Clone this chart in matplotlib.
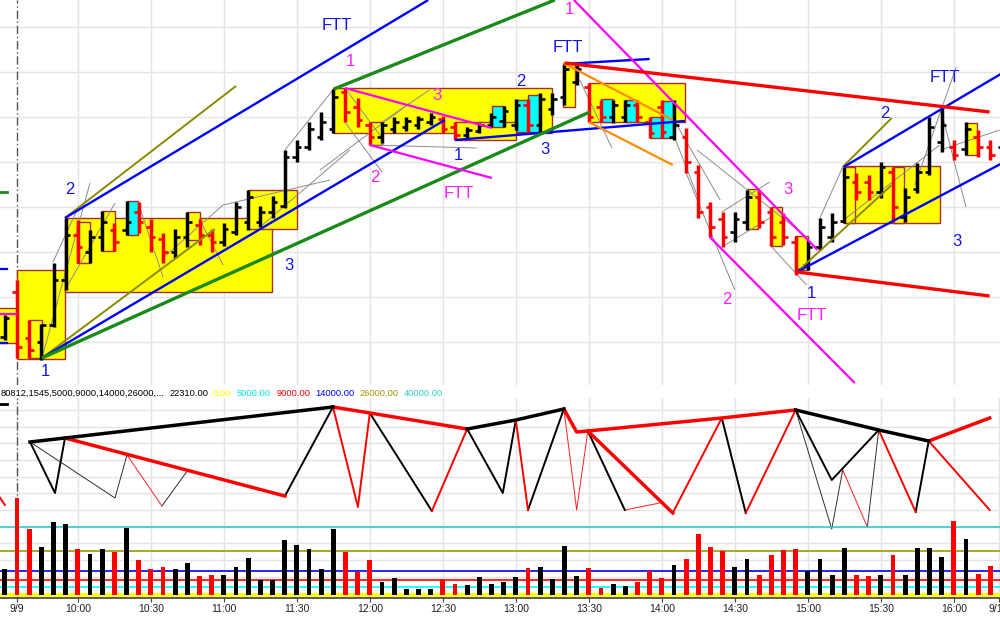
import matplotlib
matplotlib.use("Agg")
import matplotlib.pyplot as plt
from matplotlib.patches import Rectangle

plt.rcParams["font.family"] = ["Liberation Sans", "DejaVu Sans"]

# ---------------- data ----------------
# 5 minute bars, index 0 = first bar of 9/9, index -1 = last bar of the day before
bar_idx = list(range(-1, 82))
high = [72, 107, 67, 63, 124, 169, 167, 157, 176, 164, 186, 185, 168, 154, 158, 175, 168, 158, 164, 185,
        197, 181, 191, 237, 247, 265, 275, 298, 299, 289, 265, 265, 270, 270, 271, 274, 271, 265, 260, 264,
        274, 281, 288, 288, 294, 294, 322, 322, 304, 287, 287, 287, 287, 270, 287, 287, 259, 222, 185, 175,
        175, 197, 197, 180, 174, 151, 147, 169, 174, 220, 214, 212, 225, 220, 199, 224, 270, 279, 247, 265,
        257, 247, 259]
low = [47, 29, 29, 27, 60, 97, 124, 124, 136, 136, 152, 154, 135, 124, 129, 140, 142, 135, 141, 152,
       157, 160, 169, 179, 225, 237, 247, 254, 265, 260, 242, 244, 254, 256, 258, 262, 254, 247, 249, 254,
       260, 260, 257, 255, 255, 272, 282, 302, 265, 265, 264, 265, 265, 249, 249, 247, 214, 169, 150, 140,
       145, 157, 159, 141, 142, 112, 117, 137, 145, 164, 187, 187, 189, 165, 165, 194, 212, 235, 227, 232,
       230, 227, 237]
opn = [50, 95, 49, 45, 62, 107, 152, 135, 150, 157, 157, 175, 160, 148, 135, 150, 162, 152, 145, 155,
       165, 165, 175, 181, 230, 240, 250, 258, 295, 280, 262, 250, 258, 260, 262, 265, 268, 260, 252, 256,
       262, 266, 262, 282, 262, 278, 290, 305, 300, 280, 270, 270, 282, 265, 280, 250, 250, 215, 180, 168,
       155, 165, 190, 175, 165, 145, 122, 140, 150, 166, 205, 205, 195, 215, 170, 198, 215, 245, 240, 238,
       250, 240, 240]
close = [69, 40, 37, 62, 107, 152, 140, 150, 165, 145, 165, 165, 150, 135, 150, 165, 152, 145, 158, 180,
         190, 175, 185, 230, 240, 258, 265, 290, 275, 267, 250, 262, 265, 266, 268, 270, 258, 252, 257, 262,
         270, 276, 282, 262, 288, 288, 318, 318, 270, 270, 282, 282, 270, 254, 255, 262, 225, 175, 160, 150,
         168, 190, 165, 150, 150, 118, 140, 160, 165, 210, 195, 195, 220, 180, 190, 215, 260, 262, 232, 258,
         240, 232, 255]
volume = [15100, 56900, 38800, 28200, 42900, 41600, 27300, 24100, 26900, 25300, 39400, 20600, 15500, 16500,
          15100, 18600, 11400, 12000, 12000, 16500, 21600, 9000, 9000, 32400, 29200, 26900, 15500, 38800,
          25300, 13500, 20600, 7800, 9800, 3300, 3700, 3300, 9200, 6300, 5900, 10400, 6300,
          7800, 10600, 16100, 16500, 9400, 28800, 11400, 16100, 4300, 6700, 5300, 7800, 14300, 10000,
          17600, 21200, 35700, 28400, 26100, 16500, 21200, 12000, 23300, 26300, 26900, 14300, 21200,
          11600, 27500, 11600, 11200, 11600, 23700, 11600, 27800, 27800, 22400, 43700, 32900, 12500,
          17200, 27500]

tick_pos = [0, 5, 11, 17, 23, 29, 35, 41, 47, 53, 59, 65, 71, 77, 80.7]
tick_lab = ["9/9", "10:00", "10:30", "11:00", "11:30", "12:00", "12:30", "13:00",
            "13:30", "14:00", "14:30", "15:00", "15:30", "16:00", "9/10"]

# congestion boxes: left, right (bar index), top, bottom (price)
box_x0 = [-1.6, 0, 1, 3.94, 4.93, 6.98, 9.04, 14.0, 19.0, 25.97, 29.0, 36.0, 39.03, 41.1, 42.0,
          44.9, 47.0, 48.0, 50.0, 52.0, 53.0, 60.0, 62.0, 63.93, 67.95, 67.95, 72.0, 78.0]
box_x1 = [0, 3.94, 2.05, 20.95, 6.0, 8.05, 9.94, 15.0, 23.0, 43.96, 30.0, 41.0, 40.0, 42.0, 42.9,
          45.85, 54.9, 49.0, 51.0, 53.0, 53.9, 60.9, 62.9, 65.0, 75.84, 68.86, 72.9, 78.9]
box_hi = [79, 117, 67, 169, 165, 176, 186, 175, 197, 299, 265, 265, 281, 287, 292,
          324, 304, 288, 287, 270, 286, 198, 180, 151, 221, 220, 220, 264]
box_lo = [44, 28, 29, 95, 124, 136, 152, 147, 158, 254, 242, 247, 260, 255, 255,
          280, 265, 265, 265, 249, 249, 158, 141, 117, 164, 164, 164, 232]
box_kind = ["y", "y", "y", "y", "y", "y", "c", "y", "y", "y", "y", "y", "c", "c", "c",
            "y", "y", "c", "c", "c", "c", "y", "y", "y", "y", "y", "y", "y"]

# trend lines ((bar index, price), (bar index, price))
blue_lines = [((3.94, 169), (33.8, 387)), ((2.05, 29), (35.17, 267)), ((36.0, 247), (54.9, 266)),
              ((44.9, 323), (52.0, 328)), ((64.1, 115), (81.0, 224)), ((67.95, 220), (81.0, 314))]
green_lines = [((2.05, 29), (47.08, 275)), ((26.05, 298), (44.2, 387))]
olive_lines = [((3.94, 169), (18.0, 301)), ((2.05, 29), (16.27, 158)),
               ((64.1, 115), (71.9, 202)), ((67.87, 220), (71.9, 269))]
magenta_lines = [((26.95, 299), (39.03, 259)), ((29.0, 242), (39.03, 209)),
                 ((45.77, 387), (65.8, 137)), ((56.94, 150), (68.86, 4)), ((-1.6, 73), (0, 73))]
red_lines = [((45.03, 324), (79.95, 275)), ((64.1, 115), (79.95, 91))]
orange_lines = [((44.9, 324), (53.9, 267)), ((47.0, 265), (53.9, 222))]
gray_lines = [((2.05, 29), (6.0, 204)), ((2.96, 125), (4.93, 177)), ((3.94, 97), (8.05, 184)),
              ((9.94, 185), (12.0, 110)), ((12.0, 129), (16.93, 182)), ((14.95, 169), (16.93, 122)),
              ((16.93, 182), (25.72, 207)), ((19.97, 160), (27.36, 237)), ((22.02, 237), (25.97, 297)),
              ((26.95, 299), (30.0, 249)), ((26.95, 265), (30.0, 215)), ((24.9, 217), (32.3, 284)),
              ((29.0, 242), (37.8, 239)), ((30.0, 265), (33.9, 297)), ((46.26, 307), (48.9, 239)),
              ((53.9, 269), (57.8, 187)), ((54.07, 249), (55.96, 190)), ((55.0, 214), (59.0, 97)),
              ((57.93, 140), (61.87, 169)), ((57.93, 175), (61.87, 205)), ((55.9, 237), (64.9, 150)),
              ((61.96, 141), (64.9, 102)), ((66.0, 169), (67.87, 220)), ((67.95, 167), (75.84, 242)),
              ((73.8, 202), (77.2, 320)), ((75.9, 279), (78.0, 180)), ((75.9, 237), (80.77, 257))]

blue_labels = [("1", 2.3, 15), ("2", 4.35, 197), ("3", 22.35, 122), ("FTT", 26.3, 362),
               ("2", 41.4, 305), ("1", 36.3, 232), ("3", 43.4, 237), ("FTT", 45.3, 340),
               ("1", 65.3, 94), ("2", 71.3, 274), ("FTT", 76.3, 310), ("3", 77.3, 146)]
magenta_labels = [("1", 27.36, 325), ("3", 34.5, 291), ("2", 29.42, 210), ("FTT", 36.3, 194),
                  ("1", 45.4, 377), ("3", 63.35, 197), ("2", 58.34, 87), ("FTT", 65.3, 71)]

# swing (zigzag) panel, polylines of (bar index, value)
zz_black_thick = [[(1.07, 156), (3.94, 160), (25.97, 191)], [(37.0, 169), (41.0, 178), (44.95, 189)],
                  [(64.0, 188), (70.83, 168), (74.94, 157)]]
zz_red_thick = [[(25.97, 191), (29.0, 185), (37.0, 169)],
                [(44.95, 189), (46.0, 166), (46.92, 167), (57.93, 180), (64.0, 188)],
                [(74.94, 157), (79.95, 180)], [(3.94, 160), (22.02, 102)], [(46.92, 167), (53.9, 85)]]
zz_black_mid = [[(1.07, 156), (3.12, 105), (3.94, 160)], [(22.02, 102), (25.97, 191)],
                [(29.0, 185), (34.1, 87)], [(37.0, 169), (39.93, 105), (41.0, 178)],
                [(42.0, 88), (44.95, 189)], [(57.93, 180), (59.9, 85)],
                [(64.0, 188), (66.97, 118), (70.83, 168)], [(73.87, 86), (74.94, 157)],
                [(46.92, 167), (49.96, 88)]]
zz_red_mid = [[(25.97, 191), (28.02, 91), (29.0, 185)], [(34.1, 87), (37.0, 169)],
              [(41.0, 178), (42.0, 88)], [(53.9, 85), (57.93, 180)], [(59.9, 85), (64.0, 188)],
              [(70.83, 168), (73.87, 86)], [(74.94, 157), (79.95, 88)], [(-1.6, 104), (-1.0, 93)]]
zz_black_thin = [[(1.07, 156), (8.05, 100), (9.04, 143)], [(11.91, 92), (14.05, 128)],
                 [(64.0, 188), (66.97, 69), (67.87, 128)], [(69.9, 71), (70.83, 168)]]
zz_red_thin = [[(9.04, 143), (11.91, 92)], [(44.95, 189), (46.0, 88), (46.92, 167)],
               [(49.96, 88), (52.83, 95)], [(67.87, 128), (69.9, 71)]]

vol_levels = [0, 5000, 9000, 14000, 26000, 40000]
vol_level_cols = ["#ffff00", "#00ffff", "#ff0000", "#0000ff", "#999900", "#33cccc"]

legend_parts = [("80812,1545,5000,9000,14000,26000,...", 1, "#000000"), ("22310.00", 170, "#000000"),
                ("0.00", 213, "#ffff00"), ("5000.00", 237, "#00e5e5"), ("9000.00", 277, "#ff0000"),
                ("14000.00", 315, "#0000ff"), ("26000.00", 360, "#999900"), ("40000.00", 404, "#33cccc")]

# ---------------- figure ----------------
W, H = 1000, 618
fig = plt.figure(figsize=(W / 100, H / 100), dpi=100)
fig.patch.set_facecolor("white")


def rect(top, bottom):
    return [0, 1 - bottom / H, 1, (bottom - top) / H]


XL = (-1.4, 80.8)
ax = fig.add_axes(rect(0, 385))
axz = fig.add_axes(rect(398, 598))
axv = axz.twinx()

# price panel
ax.set_xlim(*XL)
ax.set_ylim(2, 387)
for s in ax.spines.values():
    s.set_visible(False)
ax.set_xticks(tick_pos[1:-1])
ax.set_yticks(range(45, 387, 45))
ax.tick_params(length=0, labelbottom=False, labelleft=False)
ax.grid(True, color="#e4e4e4", lw=1)
ax.set_axisbelow(True)
ax.axvline(0, color="#555555", lw=1, ls=(0, (6, 2, 1, 2)), zorder=1)

fills = {"y": "#ffff00", "c": "#00ffff"}
for x0, x1, hi, lo, k in zip(box_x0, box_x1, box_hi, box_lo, box_kind):
    ax.add_patch(Rectangle((x0, lo), x1 - x0, hi - lo, facecolor=fills[k],
                           edgecolor="#a3302a", lw=1, zorder=2))


def draw(axis, segs, color, lw, z):
    for (xa, ya), (xb, yb) in segs:
        axis.plot([xa, xb], [ya, yb], color=color, lw=lw, zorder=z, solid_capstyle="butt")


draw(ax, gray_lines, "#8c8c8c", 0.7, 3)

cols = ["#000000" if c >= o else "#ff0000" for o, c in zip(opn, close)]
ax.vlines(bar_idx, low, high, colors=cols, lw=2.5, zorder=4)
ax.hlines(opn, [i - 0.38 for i in bar_idx], bar_idx, colors=cols, lw=1.9, zorder=4)
ax.hlines(close, bar_idx, [i + 0.38 for i in bar_idx], colors=cols, lw=1.9, zorder=4)

draw(ax, olive_lines, "#8a8a00", 1.4, 5)
draw(ax, blue_lines, "#0000ff", 1.7, 5)
draw(ax, green_lines, "#1a8a1a", 2.4, 5)
draw(ax, magenta_lines, "#ff00ff", 1.6, 5)
draw(ax, orange_lines, "#ff8c00", 1.6, 5)
draw(ax, red_lines, "#ff0000", 2.4, 5)

# little marks at left edge
ax.plot([-1.45, -0.85], [195, 195], color="#1a8a1a", lw=2, zorder=5)
ax.plot([-1.45, -0.85], [118, 118], color="#0000ff", lw=1.6, zorder=5)
ax.plot([-1.45, -0.85], [44, 44], color="#0000ff", lw=1.6, zorder=5)

for s, x, y in blue_labels:
    ax.text(x, y, s, color="#1414e6", fontsize=12, ha="center", va="center", zorder=6)
for s, x, y in magenta_labels:
    ax.text(x, y, s, color="#ff1aff", fontsize=12, ha="center", va="center", zorder=6)

# swing panel (background axis) with grid
axz.set_xlim(*XL)
axz.set_ylim(0, 200)
for name, s in axz.spines.items():
    s.set_visible(name == "bottom")
axz.spines["bottom"].set_color("#404040")
axz.spines["bottom"].set_linewidth(1.2)
axz.set_yticks([188, 171, 155, 138, 121, 105, 88, 71, 55, 38, 21, 5])
axz.set_xticks(tick_pos)
axz.set_xticklabels(tick_lab, fontsize=7.5, color="#202020")
axz.tick_params(axis="x", length=3, color="#404040", pad=1.5)
axz.tick_params(axis="y", length=0, labelleft=False)
axz.grid(True, color="#e4e4e4", lw=1)
axz.set_axisbelow(True)
axz.axvline(0, color="#555555", lw=1, ls=(0, (6, 2, 1, 2)), zorder=1)


def poly(segs, color, lw):
    for pts in segs:
        axz.plot([p[0] for p in pts], [p[1] for p in pts], color=color, lw=lw, zorder=3)


poly(zz_black_thin, "#303030", 0.7)
poly(zz_red_thin, "#ff2020", 0.7)
poly(zz_black_mid, "#000000", 1.4)
poly(zz_red_mid, "#ff0000", 1.4)
poly(zz_red_thick, "#ff0000", 2.5)
poly(zz_black_thick, "#000000", 2.5)
axz.plot([-1.45, -0.85], [194, 194], color="#000000", lw=2)

# volume (twin axis drawn on top)
axv.set_xlim(*XL)
axv.set_ylim(-1765, 115900)
axv.patch.set_visible(False)
for s in axv.spines.values():
    s.set_visible(False)
axv.set_yticks([])
for lev, c in zip(vol_levels, vol_level_cols):
    axv.axhline(lev, color=c, lw=2.6 if lev == 0 else 1.2, zorder=1)
axv.bar(bar_idx, volume, width=0.4, color=cols, zorder=2)

for s, x, c in legend_parts:
    fig.text(x / W, 1 - 393 / H, s, color=c, fontsize=6.7, ha="left", va="center")

fig.savefig("out.png", dpi=100)
